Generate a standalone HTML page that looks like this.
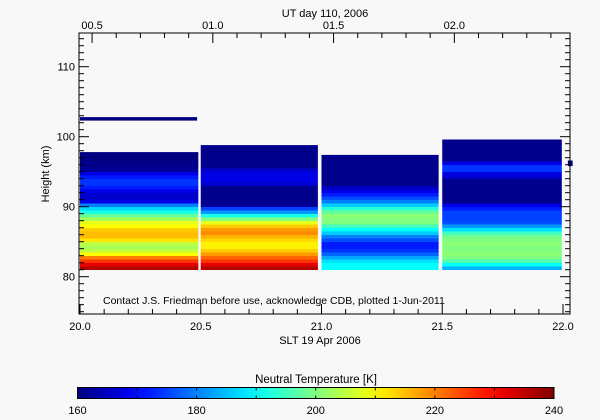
<!DOCTYPE html>
<html><head><meta charset="utf-8"><style>
body{margin:0;background:#f8f8f8}
svg{display:block;font-family:"Liberation Sans",sans-serif}
text{fill:#000}
</style></head><body>
<svg id="chart" width="600" height="420" viewBox="0 0 600 420">
<rect width="600" height="420" fill="#f8f8f8"/>
<g id="cols"></g>
<g id="axes"></g>
<text x="325" y="17" font-size="11" text-anchor="middle">UT day 110, 2006</text>
<text x="320" y="344" font-size="11" text-anchor="middle">SLT 19 Apr 2006</text>
<text transform="translate(49,174) rotate(-90)" font-size="11" text-anchor="middle">Height (km)</text>
<text x="103" y="304" font-size="10.5">Contact J.S. Friedman before use, acknowledge CDB, plotted 1-Jun-2011</text>
<text x="316" y="383" font-size="11.5" text-anchor="middle">Neutral Temperature [K]</text>
<g id="cbar"></g>
</svg>
<script>
const startKm = 81.0;
const stepKm = 0.5;
const colStart = [20.0, 20.5, 21.0, 21.5];
const colEnd = [20.49, 20.985, 21.485, 21.995];
const colTop = [97.8, 98.8, 97.4, 99.6];
const col1Temps = [236,232,226,220,210,205,203,205,212,215,215,214,210,208,203,198,192,187,180,168,166,166,168,172,174,174,172,168,162,161,161,160,160,160,160];
const col2Temps = [236,232,226,222,218,214,211,211,213,216,219,218,214,208,200,192,182,175,162,161,161,161,161,161,166,168,168,168,166,161,161,161,161,161,161,161,161,161];
const col3Temps = [190,190,188,183,178,174,172,172,176,180,186,190,195,200,200,201,198,193,186,180,176,172,168,165,161,161,161,161,161,161,161,161,161,161,161];
const col4Temps = [184,190,196,200,201,200,200,201,200,199,195,188,182,176,175,175,175,172,168,161,161,161,161,161,161,161,166,168,174,174,168,161,161,161,161,161,161,161,161];
const dashBand = [20.0, 20.485, 102.3, 102.8];
const markBand = [22.02, 22.04, 95.8, 96.6];
const cbTicks = [160,180,200,220,240];
const yTicks = [80,90,100,110];
const xTicks = [20.0,20.5,21.0,21.5,22.0];
const utTicks = ["00.5","01.0","01.5","02.0"];
const allTemps = [col1Temps,col2Temps,col3Temps,col4Temps];

const NS="http://www.w3.org/2000/svg";
const X = v => 80 + (v-20)*241.5;
const Y = km => 276.7 - (km-80)*7;
function jet(t){
  const c=v=>Math.round(255*Math.max(0,Math.min(1,v)));
  const r=c(1.5-Math.abs(4*t-3)), g=c(1.5-Math.abs(4*t-2)), b=c(1.5-Math.abs(4*t-1));
  return `rgb(${r},${g},${b})`;
}
const tc = T => jet((T-160)/80);
function mk(tag, attrs, parent){const e=document.createElementNS(NS,tag);for(const k in attrs)e.setAttribute(k,attrs[k]);parent.appendChild(e);return e;}

const cols=document.getElementById('cols');
allTemps.forEach((temps,ci)=>{
  const x0=X(colStart[ci]), x1=X(colEnd[ci]);
  temps.forEach((T,i)=>{
    const lo=startKm+i*stepKm;
    if(lo>=colTop[ci]) return;
    const hi=Math.min(lo+stepKm,colTop[ci]);
    const r=mk('rect',{x:x0,y:Y(hi),width:x1-x0,height:Y(lo)-Y(hi)+0.3,fill:tc(T)},cols);
    
    
  });
});
{
  const r=mk('rect',{x:X(dashBand[0]),y:Y(dashBand[3]),width:X(dashBand[1])-X(dashBand[0]),height:Y(dashBand[2])-Y(dashBand[3]),fill:tc(160)},cols);
  
  
  const m=mk('rect',{x:X(markBand[0]),y:Y(markBand[3]),width:X(markBand[1])-X(markBand[0]),height:Y(markBand[2])-Y(markBand[3]),fill:tc(160)},cols);
  
  
}

const ax=document.getElementById('axes');
const L=79,R=570,T=33,B=314;
mk('rect',{x:L,y:T,width:R-L,height:B-T,fill:'none',stroke:'#000','stroke-width':1},ax);
// y ticks
for(let km=75;km<=114;km++){
  const y=Y(km), len=(km%10===0)?10:5;
  mk('line',{x1:L,x2:L+len,y1:y,y2:y,stroke:'#000'},ax);
  mk('line',{x1:R,x2:R-len,y1:y,y2:y,stroke:'#000'},ax);
}
yTicks.forEach(v=>{
  const t=mk('text',{x:75,y:Y(v)+4,'font-size':11,'text-anchor':'end'},ax);
  t.textContent=v;
  
  
});
// x ticks bottom
for(let i=0;i<=20;i++){
  const v=20+i*0.1,x=X(v),len=(i%5===0)?10:5;
  mk('line',{x1:x,x2:x,y1:B,y2:B-len,stroke:'#000'},ax);
}
xTicks.forEach(v=>{
  const t=mk('text',{x:X(v),y:330,'font-size':11,'text-anchor':'middle'},ax);
  t.textContent=v.toFixed(1);
  
  
});
// top ticks (UT = SLT - 19.55)
for(let i=0;i<=20;i++){
  const v=20.05+i*0.1,x=X(v);if(x>R)break;
  const len=(i%5===0)?10:5;
  mk('line',{x1:x,x2:x,y1:T,y2:T+len,stroke:'#000'},ax);
}
utTicks.forEach((s,i)=>{
  const t=mk('text',{x:X(20.05+i*0.5),y:29,'font-size':11,'text-anchor':'middle'},ax);
  t.textContent=s;
  
  
});

// colorbar
const cb=document.getElementById('cbar');
const cx0=77.5,cx1=554,cy=387.5,ch=11;
const defs=mk('defs',{},cb);
const g=mk('linearGradient',{id:'jetg',x1:0,x2:1,y1:0,y2:0},defs);
for(let i=0;i<=20;i++) mk('stop',{offset:i/20,'stop-color':jet(i/20)},g);
mk('rect',{x:cx0,y:cy,width:cx1-cx0,height:ch,fill:'url(#jetg)',stroke:'#000'},cb);
cbTicks.forEach(v=>{
  const x=cx0+(v-160)/80*(cx1-cx0);
  const t=mk('text',{x:x,y:414,'font-size':11,'text-anchor':'middle'},cb);
  t.textContent=v;
  
  
});
for(let v=170;v<240;v+=10){
  const x=cx0+(v-160)/80*(cx1-cx0);
  mk('line',{x1:x,x2:x,y1:cy,y2:cy+3,stroke:'#000'},cb);
  mk('line',{x1:x,x2:x,y1:cy+ch,y2:cy+ch-3,stroke:'#000'},cb);
}
</script>
</body></html>
